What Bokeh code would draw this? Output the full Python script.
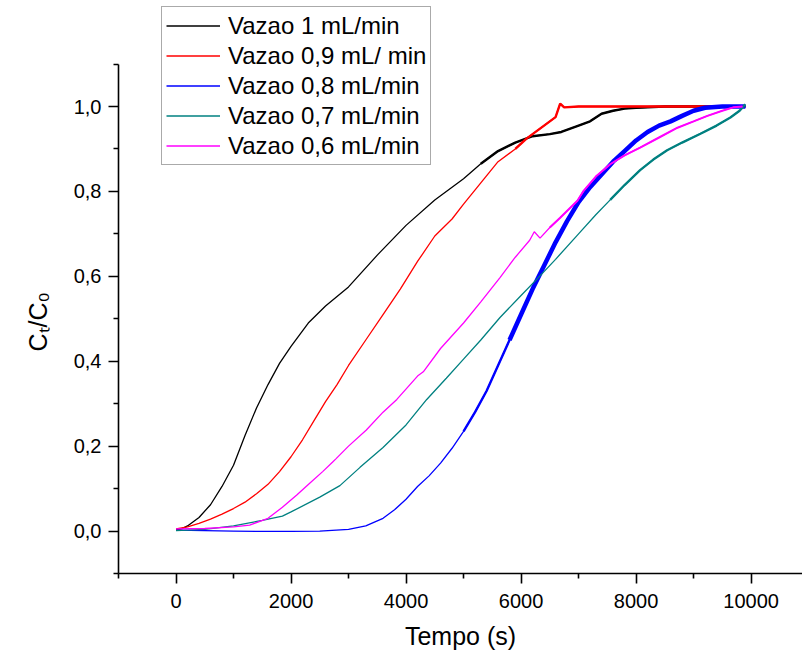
from bokeh.plotting import figure
from bokeh.models import Range1d, FixedTicker, Legend, LegendItem, CustomJSTickFormatter, Title
from bokeh.embed import file_html
from bokeh.resources import INLINE

# ---------------- data ----------------
t_black = [0, 100, 200, 400, 600, 800, 1000, 1200, 1400, 1600, 1800, 2000, 2300, 2600, 3000,
           3500, 4000, 4500, 5000, 5300, 5600, 5900, 6200, 6500, 6700, 7000, 7200, 7400, 7600,
           7800, 8000, 8500, 9000, 9500, 9900]
c_black = [0.003, 0.005, 0.012, 0.032, 0.062, 0.105, 0.155, 0.225, 0.29, 0.345, 0.395, 0.435,
           0.49, 0.53, 0.575, 0.65, 0.72, 0.78, 0.83, 0.865, 0.895, 0.915, 0.93, 0.935, 0.94,
           0.955, 0.965, 0.983, 0.99, 0.995, 0.997, 1.0, 1.0, 1.0, 1.0]

t_red = [0, 200, 400, 600, 800, 1000, 1200, 1400, 1600, 1800, 2000, 2200, 2400, 2600, 2800,
         3000, 3300, 3600, 3900, 4200, 4500, 4800, 5000, 5300, 5600, 5900, 6100, 6300, 6500,
         6600, 6680, 6750, 7000, 8000, 9000, 9900]
c_red = [0.005, 0.01, 0.018, 0.028, 0.04, 0.053, 0.068, 0.088, 0.11, 0.14, 0.175, 0.215, 0.26,
         0.305, 0.345, 0.39, 0.45, 0.51, 0.57, 0.635, 0.695, 0.735, 0.77, 0.82, 0.87, 0.9,
         0.925, 0.945, 0.965, 0.975, 1.007, 0.998, 1.0, 1.0, 1.0, 1.0]

t_blue = [0, 500, 1000, 1500, 2000, 2500, 3000, 3300, 3600, 3800, 4000, 4200, 4400, 4600, 4800,
          5000, 5200, 5400, 5600, 5800, 6000, 6200, 6400, 6600, 6800, 7000, 7200, 7400, 7600,
          7800, 8000, 8200, 8400, 8600, 8800, 9000, 9200, 9500, 9900]
c_blue = [0.002, 0.001, 0.0, -0.001, -0.001, 0.0, 0.004, 0.012, 0.03, 0.05, 0.075, 0.105, 0.13,
          0.16, 0.195, 0.235, 0.28, 0.33, 0.39, 0.45, 0.51, 0.57, 0.625, 0.68, 0.73, 0.775,
          0.81, 0.84, 0.87, 0.895, 0.92, 0.94, 0.955, 0.965, 0.978, 0.99, 0.997, 1.0, 1.0]

t_teal = [0, 500, 1000, 1500, 1850, 2000, 2500, 2850, 3200, 3600, 4000, 4360, 4700, 5000, 5300,
          5634, 6000, 6280, 6600, 7000, 7300, 7550, 7800, 8070, 8300, 8540, 8800, 9120, 9400,
          9640, 9800, 9900]
c_teal = [0.001, 0.004, 0.012, 0.025, 0.035, 0.045, 0.08, 0.107, 0.15, 0.197, 0.25, 0.31, 0.36,
          0.405, 0.45, 0.503, 0.555, 0.594, 0.64, 0.70, 0.745, 0.78, 0.815, 0.85, 0.875, 0.897,
          0.915, 0.936, 0.955, 0.974, 0.99, 1.005]

t_mag = [0, 500, 1000, 1280, 1600, 1850, 2100, 2320, 2550, 2720, 2780, 3000, 3310, 3600, 3840,
         4200, 4300, 4600, 5000, 5300, 5634, 5900, 6150, 6230, 6330, 6500, 6680, 6980, 7080,
         7300, 7550, 7800, 8070, 8400, 8720, 9000, 9240, 9500, 9690, 9850]
c_mag = [0.005, 0.006, 0.01, 0.014, 0.03, 0.056, 0.085, 0.112, 0.14, 0.162, 0.17, 0.2, 0.238,
         0.28, 0.31, 0.365, 0.375, 0.43, 0.49, 0.54, 0.597, 0.645, 0.685, 0.705, 0.69, 0.715,
         0.738, 0.778, 0.80, 0.835, 0.864, 0.885, 0.903, 0.927, 0.95, 0.965, 0.978, 0.99,
         0.998, 1.0]

series_labels = ["Vazao 1 mL/min", "Vazao 0,9 mL/ min", "Vazao 0,8 mL/min",
                 "Vazao 0,7 mL/min", "Vazao 0,6 mL/min"]
x_major = [0, 2000, 4000, 6000, 8000, 10000]
x_minor = [-1000, 1000, 3000, 5000, 7000, 9000, 11000]
y_major = [0.0, 0.2, 0.4, 0.6, 0.8, 1.0]
y_minor = [-0.1, 0.1, 0.3, 0.5, 0.7, 0.9, 1.1]
x_title = "Tempo (s)"
y_title = "Cₜ/C₀"

# ---------------- styling ----------------
FONT = "Liberation Sans"
colors = ["#000000", "#ff0000", "#0000ff", "#008080", "#ff00ff"]
# (start time, width) stages where a trace becomes thicker / noisier
stages = [[(5300, 2.4)], [(5800, 2.4)], [(5000, 2.4), (5700, 4.5)], [(7500, 2.3)], [(6500, 2.0)]]

p = figure(width=802, height=653, output_backend="svg", toolbar_location=None,
           x_range=Range1d(-1000, 10894), y_range=Range1d(-0.1, 1.2497),
           min_border_left=118, min_border_right=0, min_border_top=0, min_border_bottom=80)
p.outline_line_color = None
p.grid.grid_line_color = None
p.background_fill_color = "white"
p.border_fill_color = "white"

all_t = [t_black, t_red, t_blue, t_teal, t_mag]
all_c = [c_black, c_red, c_blue, c_teal, c_mag]
items = []
for t, c, col, lab, st in zip(all_t, all_c, colors, series_labels, stages):
    r = p.line(t, c, line_color=col, line_width=1.3)
    for nf, tw in st:
        tt = [a for a in t if a >= nf]
        cc = [b for a, b in zip(t, c) if a >= nf]
        p.line(tt, cc, line_color=col, line_width=tw)
    items.append(LegendItem(label=lab, renderers=[r]))

legend = Legend(items=items, location=(43, 408),
                label_text_font=FONT, label_text_font_size="24px", label_text_color="#000000",
                glyph_width=54, glyph_height=29, label_height=29, label_standoff=8,
                spacing=1, padding=4, margin=0,
                border_line_color="#555555", border_line_width=1.5,
                background_fill_color="white", background_fill_alpha=1.0)
p.add_layout(legend, "center")

# axes
xa = p.xaxis[0]
xa.ticker = FixedTicker(ticks=x_major, minor_ticks=x_minor)
xa.formatter = CustomJSTickFormatter(code="return tick.toFixed(0);")
xa.bounds = (-1000, 11000)
ya = p.yaxis[0]
ya.ticker = FixedTicker(ticks=y_major, minor_ticks=y_minor)
ya.formatter = CustomJSTickFormatter(code="return tick.toFixed(1).replace('.', ',');")
ya.bounds = (-0.1, 1.1)
for ax in (xa, ya):
    ax.axis_line_width = 1.6
    ax.axis_line_color = "black"
    ax.major_tick_line_width = 1.6
    ax.minor_tick_line_width = 1.6
    ax.major_tick_out = 10
    ax.major_tick_in = 0
    ax.minor_tick_out = 5
    ax.minor_tick_in = 0
    ax.major_label_text_font = FONT
    ax.major_label_text_color = "black"
    ax.axis_label_text_font = FONT
    ax.axis_label_text_font_style = "normal"
    ax.axis_label_text_color = "black"
xa.major_label_text_font_size = "20px"
ya.major_label_text_font_size = "20px"
xa.major_label_standoff = 10
ya.major_label_standoff = 7
xa.axis_label = x_title
xa.axis_label_text_font_size = "25px"
xa.axis_label_standoff = 11

# y title as a side title so it can be centred on the drawn axis (not the frame)
p.add_layout(Title(text=y_title, align="left", offset=222, standoff=38,
                   text_font=FONT, text_font_size="25px", text_font_style="normal",
                   text_color="black"), "left")

open("out.html", "w").write(file_html(p, INLINE))
